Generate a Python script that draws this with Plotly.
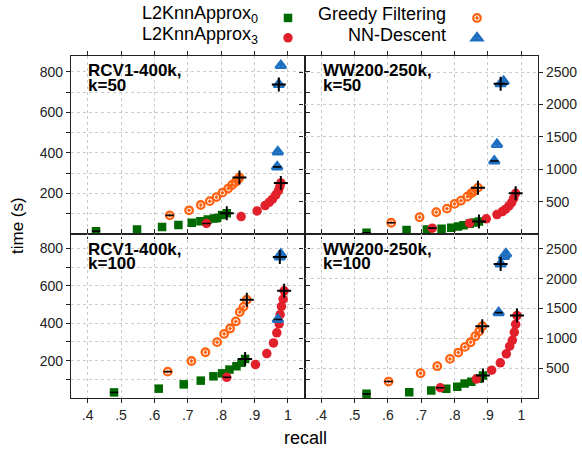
import plotly.graph_objects as go

# ---------------- data ----------------
# Panel A: RCV1-400k, k=50
a_l0_recall = [0.425, 0.548, 0.623, 0.672, 0.712, 0.738, 0.760, 0.779, 0.788, 0.803, 0.817]
a_l0_time = [14, 22, 34, 44, 55, 63, 71, 76, 79, 94, 102]
a_l3_recall = [0.756, 0.860, 0.908, 0.932, 0.944, 0.954, 0.964, 0.972, 0.976, 0.979]
a_l3_time = [52, 86, 114, 140, 156, 172, 193, 214, 234, 252]
a_gf_recall = [0.646, 0.704, 0.739, 0.766, 0.786, 0.804, 0.821, 0.833, 0.843, 0.851, 0.855]
a_gf_time = [92, 117, 143, 162, 182, 204, 224, 242, 256, 270, 279]
a_nn_recall = [0.968, 0.970, 0.973, 0.979]
a_nn_time = [331, 405, 738, 831]

# Panel B: WW200-250k, k=50
b_l0_recall = [0.536, 0.656, 0.717, 0.761, 0.790, 0.810, 0.827, 0.845, 0.860, 0.873]
b_l0_time = [18, 60, 70, 80, 95, 115, 137, 157, 177, 192]
b_l3_recall = [0.733, 0.845, 0.895, 0.927, 0.943, 0.953, 0.963, 0.971, 0.977, 0.983]
b_l3_time = [90, 167, 234, 300, 346, 383, 434, 485, 552, 629]
b_gf_recall = [0.610, 0.695, 0.745, 0.777, 0.800, 0.819, 0.838, 0.850, 0.858, 0.870]
b_gf_time = [174, 260, 337, 392, 465, 515, 577, 629, 660, 716]
b_nn_recall = [0.919, 0.927, 0.938, 0.947]
b_nn_time = [1127, 1383, 2321, 2357]

# Panel C: RCV1-400k, k=100
c_l0_recall = [0.479, 0.613, 0.688, 0.739, 0.777, 0.803, 0.825, 0.846, 0.861, 0.872]
c_l0_time = [30, 50, 73, 93, 116, 132, 152, 170, 189, 209]
c_l3_recall = [0.817, 0.903, 0.937, 0.957, 0.967, 0.974, 0.977, 0.981, 0.986, 0.989]
c_l3_time = [111, 179, 238, 295, 349, 397, 446, 490, 529, 574]
c_gf_recall = [0.640, 0.711, 0.753, 0.788, 0.809, 0.827, 0.844, 0.856, 0.867, 0.877]
c_gf_time = [141, 198, 245, 299, 343, 372, 410, 460, 488, 526]
c_nn_recall = [0.970, 0.976, 0.979]
c_nn_time = [420, 755, 770]

# Panel D: WW200-250k, k=100
d_l0_recall = [0.536, 0.664, 0.730, 0.775, 0.808, 0.830, 0.850, 0.870, 0.885]
d_l0_time = [70, 97, 126, 154, 188, 243, 271, 321, 377]
d_l3_recall = [0.757, 0.865, 0.911, 0.937, 0.955, 0.965, 0.973, 0.979, 0.983, 0.987]
d_l3_time = [172, 318, 466, 589, 740, 868, 968, 1102, 1236, 1382]
d_gf_recall = [0.602, 0.698, 0.748, 0.786, 0.811, 0.831, 0.848, 0.862, 0.874, 0.883]
d_gf_time = [276, 416, 533, 656, 762, 857, 935, 1036, 1119, 1203]
d_nn_recall = [0.932, 0.938, 0.948, 0.954]
d_nn_time = [1432, 2248, 2375, 2415]

# index of the "+"-marked configuration per series (L0, L3, GF, NN); "-" marks index 0
a_plus_idx = [-1, -1, -1, 2]
b_plus_idx = [-1, -1, -1, 2]
c_plus_idx = [-1, -1, -1, 1]
d_plus_idx = [-1, -1, -1, 1]

panel_titles = [("RCV1-400k,", "k=50"), ("WW200-250k,", "k=50"),
                ("RCV1-400k,", "k=100"), ("WW200-250k,", "k=100")]
series_names = ["L2KnnApprox<sub>0</sub>", "L2KnnApprox<sub>3</sub>", "Greedy Filtering", "NN-Descent"]
x_tickvals = [0.4, 0.5, 0.6, 0.7, 0.8, 0.9, 1.0]
x_ticktext = [".4", ".5", ".6", ".7", ".8", ".9", "1"]
left_tickvals = [100, 200, 300, 400, 500, 600, 700, 800]
left_ticktext = ["", "200", "", "400", "", "600", "", "800"]
right_tickvals = [500, 1000, 1500, 2000, 2500]
right_ticktext = ["500", "1000", "1500", "2000", "2500"]

# ---------------- styling ----------------
FONT = "Liberation Sans, Arial, Helvetica, sans-serif"
GREEN = "#006a00"
RED = "#e2202b"
ORANGE = "#ff6210"
BLUE = "#1f6fc0"
styles = [
    dict(symbol="square", size=8.5, color=GREEN),
    dict(symbol="circle", size=9.5, color=RED),
    dict(symbol="circle-open-dot", size=7.5, color=ORANGE, line=dict(width=2.3, color=ORANGE)),
    dict(symbol="triangle-up-open-dot", size=9, color=BLUE, line=dict(width=2.6, color=BLUE)),
]
legend_of = ["legend", "legend", "legend2", "legend2"]

panels = [
    ([(a_l0_recall, a_l0_time), (a_l3_recall, a_l3_time), (a_gf_recall, a_gf_time), (a_nn_recall, a_nn_time)], a_plus_idx, "x", "y"),
    ([(b_l0_recall, b_l0_time), (b_l3_recall, b_l3_time), (b_gf_recall, b_gf_time), (b_nn_recall, b_nn_time)], b_plus_idx, "x2", "y2"),
    ([(c_l0_recall, c_l0_time), (c_l3_recall, c_l3_time), (c_gf_recall, c_gf_time), (c_nn_recall, c_nn_time)], c_plus_idx, "x3", "y3"),
    ([(d_l0_recall, d_l0_time), (d_l3_recall, d_l3_time), (d_gf_recall, d_gf_time), (d_nn_recall, d_nn_time)], d_plus_idx, "x4", "y4"),
]

fig = go.Figure()
for p, (series, plus_idx, xa, ya) in enumerate(panels):
    for s, (rx, ty) in enumerate(series):
        fig.add_trace(go.Scatter(
            x=rx, y=ty, mode="markers", xaxis=xa, yaxis=ya,
            marker=styles[s], name=" ", legend=legend_of[s],
            showlegend=(p == 0), hoverinfo="skip"))
    # "+" and "-" overlays
    px_, py_, mx_, my_ = [], [], [], []
    for s, (rx, ty) in enumerate(series):
        i = plus_idx[s]
        px_.append(rx[i]); py_.append(ty[i])
        mx_.append(rx[0]); my_.append(ty[0])
    fig.add_trace(go.Scatter(x=px_, y=py_, mode="markers", xaxis=xa, yaxis=ya, showlegend=False,
                             marker=dict(symbol="cross-thin", size=10, line=dict(width=2, color="black")),
                             hoverinfo="skip"))
    fig.add_trace(go.Scatter(x=mx_, y=my_, mode="markers", xaxis=xa, yaxis=ya, showlegend=False,
                             marker=dict(symbol="line-ew", size=6, line=dict(width=1.6, color="black")),
                             hoverinfo="skip"))

# ---------------- layout ----------------
L, R, T, B = 71, 44, 56, 54
W, H = 582, 452
pw = W - L - R
ph = H - T - B
xsplit = (304.5 - L) / pw
ysplit = (398 - 234) / ph

common_axis = dict(showline=True, linecolor="#222222", linewidth=1.3, mirror="ticks",
                   ticks="outside", ticklen=4, tickcolor="#222222", tickwidth=1,
                   showgrid=True, gridcolor="#cccccc", griddash="dot", gridwidth=1,
                   zeroline=False, tickfont=dict(family=FONT, size=14, color="#222222"))

def xaxis(domain, labels, anchor):
    return dict(common_axis, domain=domain, range=[0.35, 1.05], tickvals=x_tickvals,
                ticktext=x_ticktext, showticklabels=labels, anchor=anchor)

def yaxis(domain, right, anchor):
    d = dict(common_axis, domain=domain, anchor=anchor)
    if right:
        d.update(range=[0, 2750], tickvals=right_tickvals, ticktext=right_ticktext, side="right")
    else:
        d.update(range=[0, 878], tickvals=left_tickvals, ticktext=left_ticktext, side="left")
    return d

annotations = []
title_pos = [(0.066, 0.921, 0.837), (0.072, 0.921, 0.837), (0.066, 0.908, 0.823), (0.072, 0.908, 0.823)]
for p, ((t1, t2), (tx, ty1, ty2)) in enumerate(zip(panel_titles, title_pos)):
    xr = "x domain" if p == 0 else f"x{p+1} domain"
    yr = "y domain" if p == 0 else f"y{p+1} domain"
    for txt, yy in ((t1, ty1), (t2, ty2)):
        annotations.append(dict(text=f"<b>{txt}</b>", xref=xr, yref=yr, x=tx, y=yy,
                                xanchor="left", yanchor="middle", showarrow=False,
                                font=dict(family=FONT, size=17, color="black")))

# legend texts (right-aligned, markers drawn by legends to their right)
leg_text_pos = [(260, 14), (260, 35), (448, 14), (448, 35)]
for name, (lx, ly) in zip(series_names, leg_text_pos):
    annotations.append(dict(text=name, xref="paper", yref="paper",
                            x=(lx - L) / pw, y=(H - B - ly) / ph,
                            xanchor="right", yanchor="middle", showarrow=False,
                            font=dict(family=FONT, size=18, color="black")))

annotations.append(dict(text="time (s)", xref="paper", yref="paper", x=(17 - L) / pw,
                        y=(398 - 226) / ph, textangle=-90, showarrow=False,
                        xanchor="center", yanchor="middle",
                        font=dict(family=FONT, size=17, color="black")))
annotations.append(dict(text="recall", xref="paper", yref="paper", x=(305 - L) / pw,
                        y=(398 - 438) / ph, showarrow=False,
                        xanchor="center", yanchor="middle",
                        font=dict(family=FONT, size=18, color="black")))

legend_common = dict(orientation="v", bgcolor="rgba(0,0,0,0)", borderwidth=0,
                     font=dict(family=FONT, size=13), itemwidth=30,
                     xanchor="left", yanchor="top", tracegroupgap=0)

fig.update_layout(
    width=W, height=H, margin=dict(l=L, r=R, t=T, b=B, autoexpand=False),
    paper_bgcolor="white", plot_bgcolor="white",
    font=dict(family=FONT, color="black"),
    xaxis=xaxis([0, xsplit], False, "y"),
    yaxis=yaxis([ysplit, 1], False, "x"),
    xaxis2=xaxis([xsplit, 1], False, "y2"),
    yaxis2=yaxis([ysplit, 1], True, "x2"),
    xaxis3=xaxis([0, xsplit], True, "y3"),
    yaxis3=yaxis([0, ysplit], False, "x3"),
    xaxis4=xaxis([xsplit, 1], True, "y4"),
    yaxis4=yaxis([0, ysplit], True, "x4"),
    legend=dict(legend_common, x=(268 - L) / pw, y=(H - B - 3) / ph),
    legend2=dict(legend_common, x=(457 - L) / pw, y=(H - B - 3) / ph),
    annotations=annotations,
    showlegend=True,
)

fig.write_html("out.html", config={"displayModeBar": False},
               post_script="document.body.style.margin='0px';document.body.style.overflow='hidden';")
